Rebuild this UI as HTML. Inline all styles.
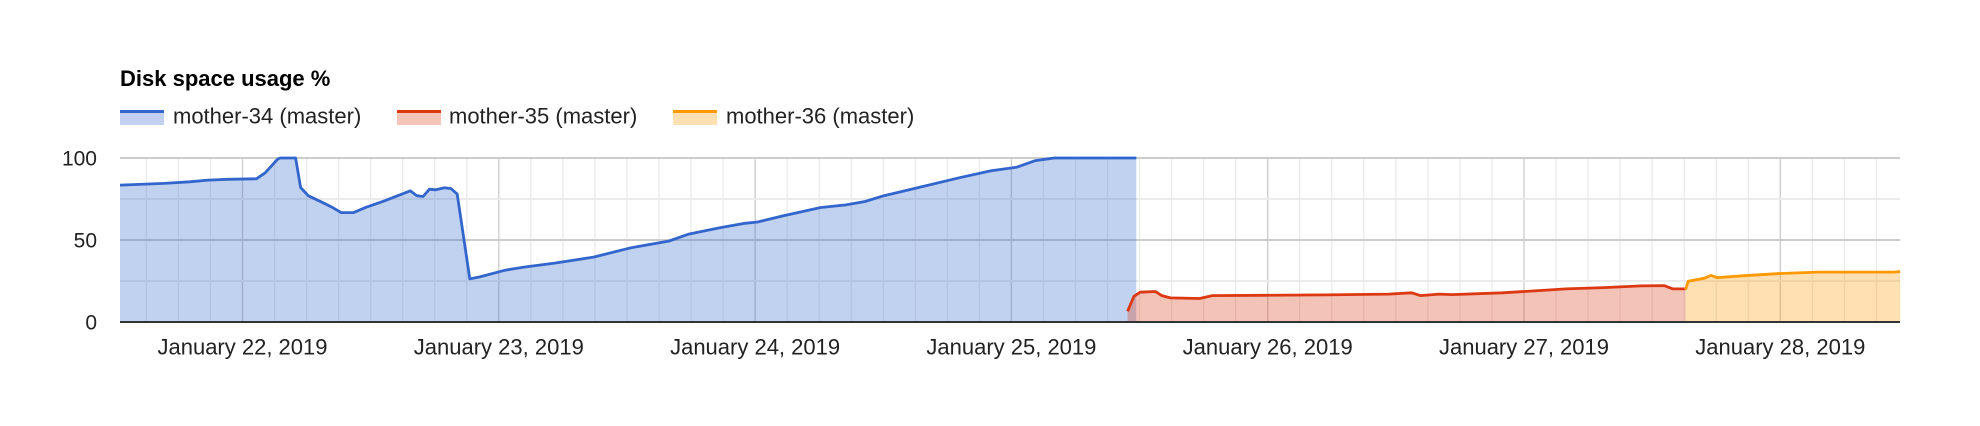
<!DOCTYPE html>
<html><head><meta charset="utf-8"><style>
html,body{margin:0;padding:0;background:#fff;}
svg{display:block;font-family:"Liberation Sans",Arial,sans-serif;}
</style></head><body>
<svg id="chart" width="1980" height="426" viewBox="0 0 1980 426" xmlns="http://www.w3.org/2000/svg">
<text x="120" y="86" font-size="22" font-weight="bold" fill="#000">Disk space usage %</text>
<g>
 <g>
  <rect x="120" y="112" width="44" height="13" fill="#c2d1ef"/><rect x="120" y="110" width="44" height="3" fill="#3366cc"/>
  <text x="173" y="116" dy="0.35em" font-size="22" fill="#222">mother-34 (master)</text>
 </g>
 <g>
  <rect x="397" y="112" width="44" height="13" fill="#f5c4b8"/><rect x="397" y="110" width="44" height="3" fill="#dc3912"/>
  <text x="449" y="116" dy="0.35em" font-size="22" fill="#222">mother-35 (master)</text>
 </g>
 <g>
  <rect x="673" y="112" width="44" height="13" fill="#ffe0b3"/><rect x="673" y="110" width="44" height="3" fill="#ff9900"/>
  <text x="726" y="116" dy="0.35em" font-size="22" fill="#222">mother-36 (master)</text>
 </g>
</g>
<g id="grid"></g>
<g id="areas"></g>
<g id="lines"></g>
<g id="axes"></g>
</svg>
<script>
const yTicks=[0,50,100];
const yMinor=[25,75];
const dayLabels=["January 22, 2019","January 23, 2019","January 24, 2019","January 25, 2019","January 26, 2019","January 27, 2019","January 28, 2019"];
const blueHours=[-11.47,-9.69,-7.33,-4.97,-3.19,-1.42,1.30,2.13,3.31,3.55,4.97,5.44,6.15,7.45,8.39,9.22,10.40,11.59,13.36,15.72,16.31,16.91,17.50,18.09,18.92,19.51,20.10,21.28,22.23,24.59,26.36,29.32,32.87,36.41,39.96,41.73,44.69,47.05,48.24,50.60,54.15,56.51,58.29,60.06,62.43,67.15,70.11,72.47,74.25,76.02,83.70];
const blueValues=[83.5,83.9,84.5,85.5,86.5,87,87.3,91,99.4,100,100,82,77,73,70,66.7,66.7,70,74,80,77,76.5,81,80.6,81.8,81.4,78,26.3,27.5,31.6,33.5,36,39.6,45.3,49.4,53.5,57.5,60.2,61,64.7,69.8,71.4,73.5,77,80.6,88,92.2,94.3,98.4,100,100];
const redHours=[82.88,83.47,84.06,85.48,86.07,86.90,89.62,90.80,95.53,101.44,107.35,109.48,110.30,112.08,113.26,117.99,121.54,123.90,127.45,130.99,133.12,133.95,135.13];
const redValues=[6.5,15.7,18.2,18.6,16.1,14.7,14.3,16.1,16.3,16.5,17,17.8,16.1,17,16.7,17.8,19.2,20.2,21,22,22.2,20.2,20.2];
const orangeHours=[135.13,135.37,136.90,137.50,138.09,140.45,144.00,147.55,154.64,155.23];
const orangeValues=[19.8,24.9,26.7,28.4,27.1,28.2,29.6,30.4,30.4,30.8];

const L=120,R=1900,T=158,B=322;
const xs=h=>242.5+h*256.3/24;
const ys=v=>B-(v/100)*(B-T);
const NS="http://www.w3.org/2000/svg";
function mk(tag,parent,attrs){const e=document.createElementNS(NS,tag);for(const k in attrs)e.setAttribute(k,attrs[k]);parent.appendChild(e);return e;}
const grid=document.getElementById('grid'),areas=document.getElementById('areas'),lines=document.getElementById('lines'),axes=document.getElementById('axes');
for(let h=-9;h<=155;h+=3){
  const x=xs(h);if(x<L||x>R)continue;
  const major=(h%24===0);
  const l=mk('line',grid,{x1:x,x2:x,y1:T,y2:B,stroke:major?'#cccccc':'#ebebeb','stroke-width':1.3});
  
  
}
yMinor.forEach(v=>{
  const l=mk('line',grid,{x1:L,x2:R,y1:ys(v),y2:ys(v),stroke:'#ebebeb','stroke-width':2});
  
  
});
yTicks.forEach(v=>{
  if(v>0){const l=mk('line',grid,{x1:L,x2:R,y1:ys(v),y2:ys(v),stroke:'#cccccc','stroke-width':2});
  
  }
  const t=mk('text',axes,{x:97,y:ys(v),dy:'0.35em','text-anchor':'end','font-size':21,fill:'#222'});
  t.textContent=v;
  
  
});
dayLabels.forEach((d,i)=>{
  const t=mk('text',axes,{x:xs(i*24),y:347,dy:'0.35em','text-anchor':'middle','font-size':22,fill:'#222'});
  t.textContent=d;
  
  
});
function series(hours,vals,line,fill,name){
  let d='';hours.forEach((h,i)=>{d+=(i?'L':'M')+xs(h).toFixed(1)+','+ys(vals[i]).toFixed(1);});
  const a=mk('path',areas,{d:d+'L'+xs(hours[hours.length-1]).toFixed(1)+','+B+'L'+xs(hours[0]).toFixed(1)+','+B+'Z',fill:fill,'fill-opacity':0.3});
  
  
  const p=mk('path',lines,{d:d,fill:'none',stroke:line,'stroke-width':2.8,'stroke-linejoin':'round'});
  
  
}
series(blueHours,blueValues,'#3366cc','#3366cc','mother-34');
series(redHours,redValues,'#dc3912','#dc3912','mother-35');
series(orangeHours,orangeValues,'#ff9900','#ff9900','mother-36');
const base=mk('line',axes,{x1:L,x2:R,y1:B,y2:B,stroke:'#333','stroke-width':2});


</script>
</body></html>
